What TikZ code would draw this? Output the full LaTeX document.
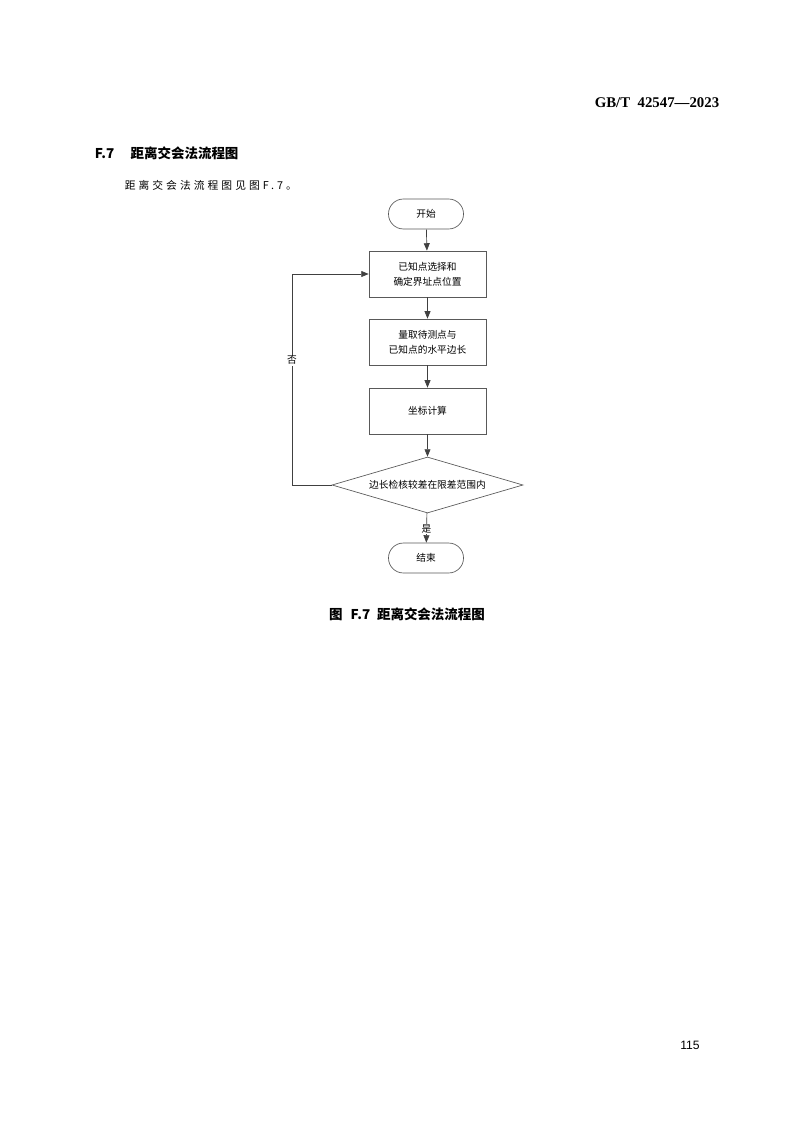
\documentclass[tikz,border=0pt]{standalone}
\usepackage{fontspec}
\setmainfont{Liberation Serif}
\setsansfont{Liberation Sans}
\newfontfamily\cjk{Noto Sans CJK SC}
\newfontfamily\cjkspaced{Noto Sans CJK SC}[LetterSpace=28]
\usetikzlibrary{shapes.geometric,arrows.meta}
\begin{document}
\begin{tikzpicture}[x=0.7413pt,y=-0.7413pt,
    flowline/.style={draw=black!75,line width=0.5pt},
    arr/.style={flowline,-{Triangle[length=5.5pt,width=4.4pt]}},
    terminal/.style={draw=black!65,line width=0.5pt,rounded corners=11pt,minimum width=55.6pt,minimum height=22.2pt,inner sep=0pt,font=\cjk\fontsize{7.2}{11}\selectfont},
    process/.style={draw=black!65,line width=0.5pt,minimum width=86.7pt,minimum height=34.1pt,inner sep=0pt,align=center,font=\cjk\fontsize{7.2}{11}\selectfont},
    decision/.style={draw=black!65,line width=0.5pt,diamond,aspect=3.4,minimum width=141.6pt,minimum height=41.5pt,inner sep=0pt,font=\cjk\fontsize{7.2}{11}\selectfont},
    answer/.style={fill=white,inner sep=0.6pt,font=\cjk\fontsize{7.2}{9}\selectfont}]
  \useasboundingbox (0,0) rectangle (803,1123);
  % page text
  \node[anchor=east,font=\bfseries\fontsize{11}{13}\selectfont] (header) at (724,103) {GB/T\ \ 42547—2023};
  \node[anchor=west,font=\cjk\bfseries\fontsize{10}{12}\selectfont] (title) at (90,153) {F.7\hspace{1.2em}距离交会法流程图};
  \node[anchor=west,font=\cjkspaced\fontsize{8}{10}\selectfont] (intro) at (120,185) {距离交会法流程图见图F.7。};
  % flowchart
  \node[terminal] (start) at (426,214) {开始};
  \node[process] (known) at (427.5,274) {已知点选择和\\确定界址点位置};
  \node[process] (measure) at (427.5,342) {量取待测点与\\已知点的水平边长};
  \node[process] (calc) at (427.5,411) {坐标计算};
  \node[decision] (check) at (427.5,485) {边长检核较差在限差范围内};
  \node[terminal] (stop) at (426,558) {结束};
  \coordinate (loopbot) at (292,485);
  \coordinate (looptop) at (292,274);
  %arrows
  \draw[arr] (start) -- (known);
  \draw[arr] (known) -- (measure);
  \draw[arr] (measure) -- (calc);
  \draw[arr] (calc) -- (check);
  \draw[arr] (check) -- node[answer,pos=0.55] (yes) {是} (stop);
  \draw[arr] (check.west) -- (loopbot) -- node[answer,pos=0.59] (no) {否} (looptop) -- (known.west);
  % caption and page number
  \node[font=\cjk\bfseries\fontsize{10}{12}\selectfont] (caption) at (407,614) {图\hspace{0.6em}F.7\hspace{0.5em}距离交会法流程图};
  \node[font=\sffamily\fontsize{9}{11}\selectfont] (pageno) at (690,1045) {115};
\end{tikzpicture}
\end{document}
